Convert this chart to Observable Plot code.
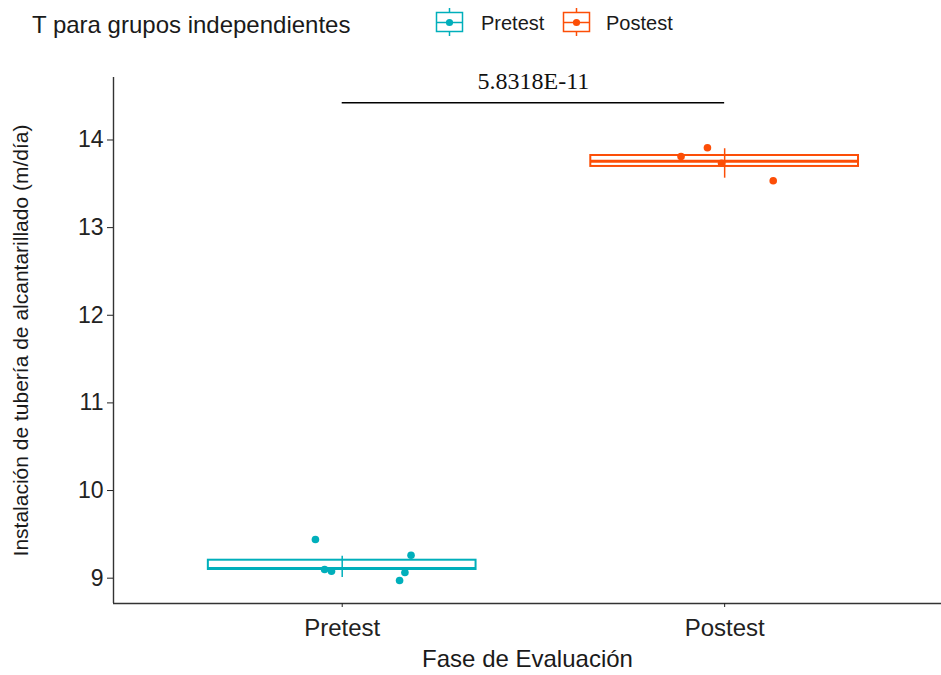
<!DOCTYPE html>
<html><head><meta charset="utf-8">
<script src="https://cdn.jsdelivr.net/npm/d3@7"></script>
<script src="https://cdn.jsdelivr.net/npm/@observablehq/plot@0.6"></script>
<style>
body{margin:0;background:#fff;font-family:"Liberation Sans",Arial,sans-serif;color:#1a1a1a;}
#wrap{position:relative;width:941px;height:675px;background:#fff;}
#header{position:relative;height:50px;}
.t{position:absolute;white-space:nowrap;line-height:1;}
.ico{position:absolute;}
</style></head><body>
<div id="wrap"><div id="header"></div><div id="chart"></div></div>
<script>
// ---- data ----
const groups = ["Pretest", "Postest"];
const colors = ["#00AFBB", "#FC4E07"];
const pretestValues = [9.441, 9.099, 9.080, 9.262, 9.065, 8.974];
const pretestJitter = [-0.070, -0.046, -0.028, 0.180, 0.164, 0.150];
const postestValues = [13.812, 13.911, 13.735, 13.535];
const postestJitter = [-0.114, -0.045, -0.008, 0.127];
const boxQ1 = [9.099, 13.698];
const boxMedian = [9.111, 13.758];
const boxQ3 = [9.205, 13.823];
const barLow = [9.008, 13.564];
const barHigh = [9.251, 13.900];
const yTicks = [9, 10, 11, 12, 13, 14];
const xDomain = [0.402, 2.567];
const yDomain = [8.711, 14.713];
const pValueLabel = "5.8318E-11";
const bracketY = 14.424;
const pValueY = 14.664;
const title = "T para grupos independientes";
const xTitle = "Fase de Evaluación";
const yTitle = "Instalación de tubería de alcantarillado (m/día)";

// ---- header (title + legend) ----
const header = document.getElementById("header");
function addText(txt, left, top, size) {
  const d = document.createElement("div");
  d.className = "t"; d.textContent = txt;
  d.style.left = left + "px"; d.style.top = top + "px"; d.style.fontSize = size + "px";
  header.appendChild(d);
}
function addIcon(color, left) {
  const ns = "http://www.w3.org/2000/svg";
  const s = document.createElementNS(ns, "svg");
  s.setAttribute("class", "ico"); s.setAttribute("width", 30); s.setAttribute("height", 32);
  s.style.left = left + "px"; s.style.top = "6px";
  s.innerHTML = `<line x1="14.5" x2="14.5" y1="2" y2="6.5" stroke="${color}" stroke-width="1.5"/>
    <line x1="14.5" x2="14.5" y1="25.5" y2="30" stroke="${color}" stroke-width="1.5"/>
    <rect x="1.5" y="6.5" width="26" height="19" fill="none" stroke="${color}" stroke-width="1.5"/>
    <line x1="1.5" x2="27.5" y1="16.5" y2="16.5" stroke="${color}" stroke-width="1.5"/>
    <circle cx="14.5" cy="16.5" r="3.6" fill="${color}"/>`;
  header.appendChild(s);
}
addText(title, 32, 13, 24);
addIcon(colors[0], 435);
addText(groups[0], 481, 13, 20);
addIcon(colors[1], 562);
addText(groups[1], 606, 13, 20);

// ---- chart ----
const points = [
  ...pretestValues.map((v, i) => ({g: groups[0], x: 1 + pretestJitter[i], y: v})),
  ...postestValues.map((v, i) => ({g: groups[1], x: 2 + postestJitter[i], y: v}))
];
const boxes = groups.map((g, i) => ({
  g, x: i + 1, q1: boxQ1[i], med: boxMedian[i], q3: boxQ3[i], lo: barLow[i], hi: barHigh[i]
}));
const halfWidth = 0.35;

const chart = Plot.plot({
  width: 941, height: 625,
  marginLeft: 113, marginRight: 0, marginTop: 27, marginBottom: 72,
  style: {fontFamily: '"Liberation Sans", Arial, sans-serif', background: "white", color: "#1a1a1a"},
  x: {domain: xDomain},
  y: {domain: yDomain},
  color: {domain: groups, range: colors},
  marks: [
    Plot.ruleX([xDomain[0]], {stroke: "#333", strokeWidth: 1.4}),
    Plot.ruleY([yDomain[0]], {stroke: "#333", strokeWidth: 1.4}),
    Plot.axisY({ticks: yTicks, tickFormat: d => String(d), tickSize: 6, tickPadding: 4, fontSize: 23, label: null, color: "#222"}),
    Plot.axisX({ticks: [1, 2], tickFormat: d => groups[d - 1], tickSize: 4, tickPadding: 11, fontSize: 24, label: null, color: "#222"}),
    Plot.rect(boxes, {x1: d => d.x - halfWidth, x2: d => d.x + halfWidth, y1: "q1", y2: "q3", stroke: "g", fill: "white", strokeWidth: 2}),
    Plot.ruleY(boxes, {x1: d => d.x - halfWidth, x2: d => d.x + halfWidth, y: "med", stroke: "g", strokeWidth: 3}),
    Plot.ruleX(boxes, {x: "x", y1: "lo", y2: "hi", stroke: "g", strokeWidth: 1.5}),
    Plot.dot(points, {x: "x", y: "y", fill: "g", r: 3.8}),
    Plot.ruleY([bracketY], {x1: 1, x2: 2, stroke: "black", strokeWidth: 1.5}),
    Plot.text([pValueLabel], {x: 1.5, y: pValueY, text: d => d, fontFamily: '"Liberation Serif", "Times New Roman", serif', fontSize: 24, lineAnchor: "middle", fill: "#111"}),
    Plot.text([xTitle], {frameAnchor: "bottom", dy: 56, text: d => d, fontSize: 24, lineAnchor: "middle", fill: "#1a1a1a"}),
    Plot.text([yTitle], {frameAnchor: "left", dx: -100, rotate: -90, textAnchor: "middle", text: d => d, fontSize: 21, lineAnchor: "top", fill: "#1a1a1a"})
  ]
});
document.getElementById("chart").appendChild(chart);
</script>
</body></html>
